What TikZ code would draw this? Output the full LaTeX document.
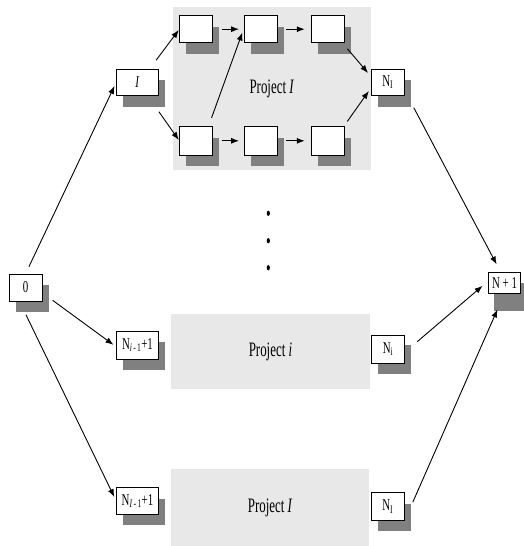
\documentclass[tikz,border=0pt]{standalone}
\usepackage{fontspec}
\setmainfont{Liberation Serif}
\usetikzlibrary{arrows.meta,shadows,calc}
\definecolor{projgray}{HTML}{E8E8E8}
\definecolor{shadowgray}{HTML}{808080}
\newcommand{\lbl}[1]{\scalebox{0.66}[1]{#1}}
\newcommand{\plbl}[1]{\scalebox{0.63}[1]{#1}}
\begin{document}
\begin{tikzpicture}[x=1pt,y=-1pt,
  box/.style={draw=black, line width=0.9pt, fill=white, minimum width=33pt, minimum height=27pt,
    inner sep=0pt, font=\fontsize{16.5}{16.5}\selectfont,
    drop shadow={shadow xshift=6.5pt, shadow yshift=-11pt, fill=shadowgray, opacity=1}},
  widebox/.style={box, minimum width=41.6pt},
  project/.style={fill=projgray, inner sep=0pt, font=\fontsize{20.5}{20.5}\selectfont},
  arr/.style={-{Latex[length=8pt,width=6pt]}, line width=0.9pt}]
\useasboundingbox (0,0) rectangle (523,546);

% project areas
\node[project, minimum width=198.3pt, minimum height=163pt] (P1) at (271.85,88.5) {\plbl{Project \textit{I}}};
\node[project, minimum width=199pt, minimum height=75pt] (P2) at (270.5,351.8) {\plbl{Project \textit{i}}};
\node[project, minimum width=198.3pt, minimum height=76.4pt] (P3) at (270.15,507.5) {\plbl{Project \textit{I}}};

% nodes
\node[box] (zero) at (25.7,287.5) {\lbl{0}};
\node[widebox, minimum height=26.7pt] (I) at (137.5,82.3) {\lbl{\textit{I}}};
\node[box] (b1t) at (196.3,29.2) {};
\node[box] (b2t) at (260.5,29.2) {};
\node[box] (b3t) at (327.7,29.2) {};
\node[box, minimum height=28.3pt] (b1b) at (196.3,140.8) {};
\node[box, minimum height=28.3pt] (b2b) at (260.5,140.8) {};
\node[box, minimum height=28.3pt] (b3b) at (327.7,140.8) {};
\node[box, minimum width=33.3pt, minimum height=26.7pt] (NI) at (387.7,82.3) {\lbl{N\textsubscript{I}}};
\node[widebox, minimum height=28pt] (Ni1) at (137.5,345) {\lbl{N\textsubscript{\textit{i}\,-\,1}+1}};
\node[box, minimum height=28.3pt, drop shadow={shadow xshift=6.5pt, shadow yshift=-10pt, fill=shadowgray, opacity=1}] (Ni) at (388,349.2) {\lbl{N\textsubscript{i}}};
\node[widebox, minimum height=26.6pt] (NI1) at (137.5,501) {\lbl{N\textsubscript{\textit{I}\,-\,1}+1}};
\node[box, minimum width=33.3pt, minimum height=27.3pt] (NIb) at (387.7,506.3) {\lbl{N\textsubscript{I}}};
\node[box, minimum width=32.3pt, minimum height=20.5pt,
  drop shadow={shadow xshift=6pt, shadow yshift=-18pt, fill=shadowgray, opacity=1}] (Np) at (504.5,282.7) {\lbl{N + 1}};

% dots
\fill (268.3,213.3) ellipse [x radius=1.6pt, y radius=2.6pt];
\fill (268.3,240.7) ellipse [x radius=1.6pt, y radius=2.6pt];
\fill (268.3,267.7) ellipse [x radius=1.6pt, y radius=2.6pt];

% connectors
\draw[arr, shorten <=7.5pt, shorten >=4pt] (zero.north) -- (I.west);
\draw[arr, shorten <=12.4pt, shorten >=3.4pt] (zero.-18) -- (Ni1.185);
\draw[arr, shorten <=14.8pt, shorten >=4.4pt] (zero.-114) -- (NI1.west);
\draw[arr, shorten <=10.3pt, shorten >=1pt] (I.48) -- (b1t.west);
\draw[arr, shorten <=19.1pt, shorten >=1pt] (I.-53) -- (b1b.west);
\draw[arr, shorten <=8.3pt, shorten >=4.5pt] (b1t.east) -- (b2t.west);
\draw[arr, shorten <=8.9pt, shorten >=3.5pt] (b1b.50) -- (b2t.west);
\draw[arr, shorten <=8.3pt, shorten >=4.5pt] (b1b.east) -- (b2b.west);
\draw[arr, shorten <=8.3pt, shorten >=6pt] (b2t.east) -- (b3t.west);
\draw[arr, shorten <=8.3pt, shorten >=6pt] (b2b.east) -- (b3b.west);
\draw[arr, shorten <=7.4pt, shorten >=4pt] (b3t.-43) -- (NI.160);
\draw[arr, shorten <=5.9pt, shorten >=3pt] (b3b.42) -- (NI.200);
\draw[arr, shorten <=19.2pt, shorten >=8.5pt] (NI.-26) -- (Np.110);
\draw[arr, shorten <=16.2pt, shorten >=7pt] (Ni.-10) -- (Np.175);
\draw[arr, shorten <=20pt, shorten >=17.5pt] (NIb.south east) -- (Np.south);
\end{tikzpicture}
\end{document}
